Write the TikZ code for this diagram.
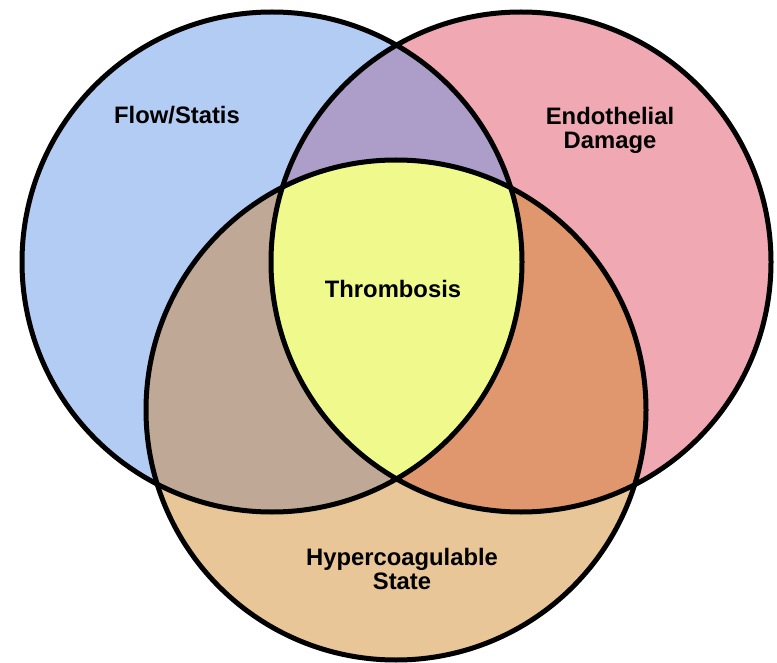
\documentclass[tikz,border=0pt]{standalone}
\usepackage{fontspec}
\setmainfont{Liberation Sans}
\definecolor{flowblue}{HTML}{B3CCF4}
\definecolor{endopink}{HTML}{F0A8B3}
\definecolor{hyperorange}{HTML}{E8C697}
\definecolor{overpurple}{HTML}{AC9DC9}
\definecolor{overbrown}{HTML}{BFA896}
\definecolor{overrust}{HTML}{E0976D}
\definecolor{coreyellow}{HTML}{F0FA8C}
\begin{document}
\begin{tikzpicture}[x=1pt,y=-1pt,
    vennlabel/.style={font=\bfseries\fontsize{23.8}{24}\selectfont, align=center, text=black}]
                \fill[white] (0,0) rectangle (777,663);
                \useasboundingbox (0,0) rectangle (777,663);

                % Centres
                \coordinate (flow) at (272,262);
                \coordinate (endo) at (521,262);
                \coordinate (hyper) at (396,410);

                % Flow/Statis (Blue)
                \fill[flowblue] (flow) circle (250pt);

                % Endothelial Damage (Pink)
                \fill[endopink] (endo) circle (250pt);

                % Hypercoagulable State (Orange)
                \fill[hyperorange] (hyper) circle (250pt);

                % Overlaps of two
                \begin{scope}
                    \clip (flow) circle (250pt);
                    \fill[overpurple] (endo) circle (250pt);
                    \fill[overbrown] (hyper) circle (250pt);
                \end{scope}
                \begin{scope}
                    \clip (endo) circle (250pt);
                    \fill[overrust] (hyper) circle (250pt);
                \end{scope}

                % Overlap of all three (Yellow)
                \begin{scope}
                    \clip (flow) circle (250pt);
                    \clip (endo) circle (250pt);
                    \fill[coreyellow] (hyper) circle (250pt);
                \end{scope}

                % Outlines
                \draw[line width=5] (flow) circle (250pt);
                \draw[line width=5] (endo) circle (250pt);
                \draw[line width=5] (hyper) circle (250pt);

                % Labels
                \node[vennlabel, anchor=base] (flowlbl) at (177,124) {Flow/Statis};
                \node[vennlabel] (endolbl) at (610,130) {Endothelial\\Damage};
                \node[vennlabel, anchor=base] (thrombolbl) at (393,298) {Thrombosis};
                \node[vennlabel] (hyperlbl) at (402,569) {Hypercoagulable\\State};
            \end{tikzpicture}
\end{document}
